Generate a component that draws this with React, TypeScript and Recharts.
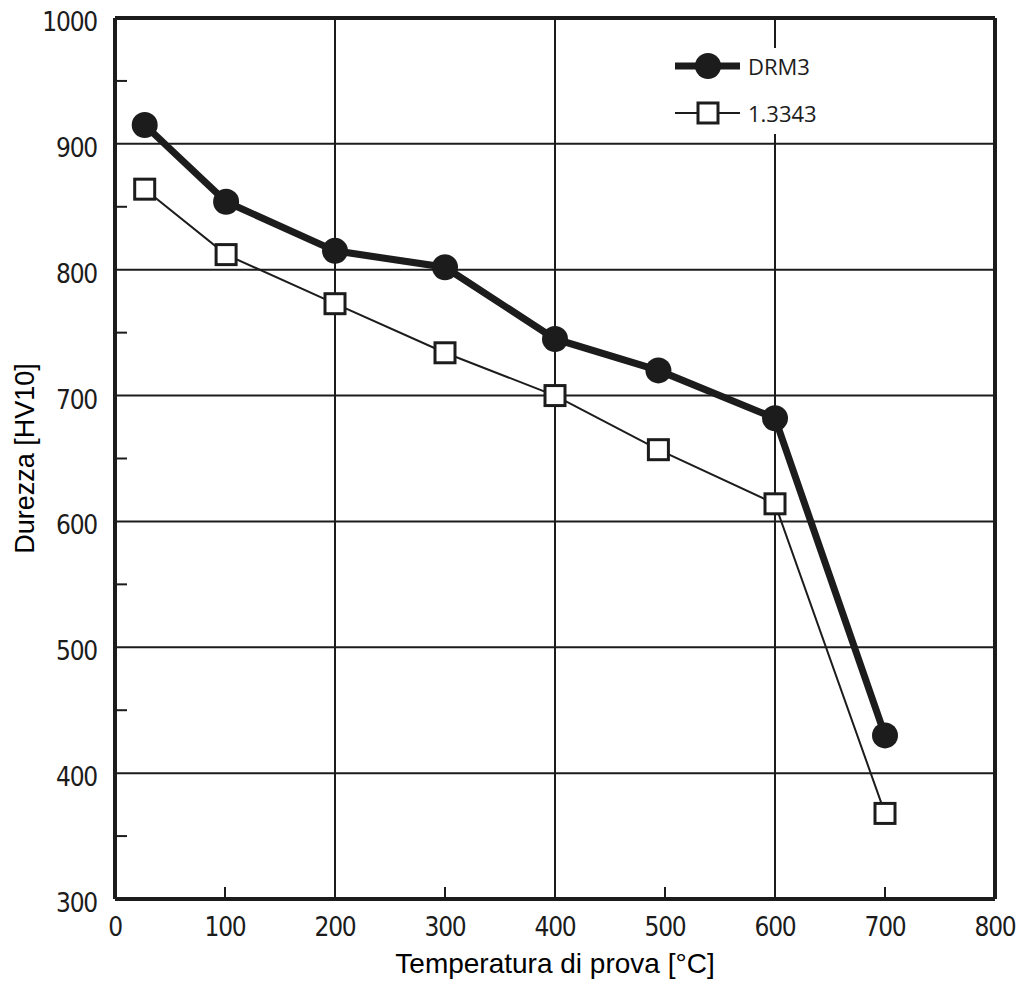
import React from 'react';
import { LineChart, Line, XAxis, YAxis, ReferenceLine, Legend } from 'recharts';

const temps = [27, 101, 200, 300, 400, 494, 600, 700];
const drm3 = [915, 854, 815, 802, 745, 720, 682, 430];
const aisi = [864, 812, 773, 734, 700, 657, 614, 368];
const seriesNames = ['DRM3', '1.3343'];

const xTicks = [0, 100, 200, 300, 400, 500, 600, 700, 800];
const xMinor = [100, 300, 500, 700];
const xGrid = [200, 400, 600];
const yTicks = [300, 350, 400, 450, 500, 550, 600, 650, 700, 750, 800, 850, 900, 950, 1000];
const yMinor = [350, 450, 550, 650, 750, 850, 950];
const yGrid = [400, 500, 600, 700, 800, 900];

const data = temps.map((t, i) => ({ t, drm3: drm3[i], aisi: aisi[i] }));

const INK = '#1c1c1c';
const tickFont = "'Liberation Sans Narrow', 'DejaVu Sans Condensed', 'Roboto', sans-serif";
const titleFont = "'Liberation Sans', Arial, sans-serif";
const legendFont = "'Open Sans', 'Noto Sans', sans-serif";

const YTick = (props: any) => {
  const { x, y, payload } = props;
  if (yMinor.includes(payload.value)) {
    return <line x1={x + 18} x2={x + 30} y1={y} y2={y} stroke={INK} strokeWidth={2} />;
  }
  return (
    <text x={x} y={y + 4} textAnchor="end" dominantBaseline="central" fontFamily={tickFont} fontSize={26} letterSpacing={-1.2} fill={INK}>
      {payload.value}
    </text>
  );
};

const XTick = (props: any) => {
  const { x, y, payload } = props;
  return (
    <g>
      {xMinor.includes(payload.value) && <line x1={x} x2={x} y1={y} y2={y - 12} stroke={INK} strokeWidth={2} />}
      <text x={x} y={y + 28} textAnchor="middle" dominantBaseline="central" fontFamily={tickFont} fontSize={26} letterSpacing={-1.2} fill={INK}>
        {payload.value}
      </text>
    </g>
  );
};

const SquareDot = (props: any) => {
  const { cx, cy, index } = props;
  return <rect key={`sq-${index}`} x={cx - 10} y={cy - 10} width={20} height={20} fill="#fff" stroke={INK} strokeWidth={3} />;
};

const LegendContent = (props: any) => {
  const payload = (props.payload || []).slice().sort(
    (a: any, b: any) => seriesNames.indexOf(a.value) - seriesNames.indexOf(b.value)
  );
  return (
    <svg width={200} height={86} style={{ display: 'block' }}>
      {payload.map((entry: any, i: number) => {
        const cy = i === 0 ? 18 : 65;
        const isDrm = entry.value === 'DRM3';
        return (
          <g key={entry.value}>
            <line x1={10} x2={75} y1={cy} y2={cy} stroke={INK} strokeWidth={isDrm ? 7 : 2} />
            {isDrm ? (
              <circle cx={43} cy={cy} r={13} fill={INK} />
            ) : (
              <rect x={33} y={cy - 10} width={20} height={20} fill="#fff" stroke={INK} strokeWidth={3} />
            )}
            <text x={83} y={cy} dominantBaseline="central" fontFamily={legendFont} fontSize={22} fill={INK}>
              {entry.value}
            </text>
          </g>
        );
      })}
    </svg>
  );
};

export default function App() {
  return (
    <div style={{ position: 'absolute', left: 0, top: 0, width: 1024, height: 995, background: '#fff' }}>
      <LineChart width={1024} height={995} data={data} margin={{ top: 18, right: 29, bottom: 0, left: 0 }}>
        <XAxis
          dataKey="t"
          type="number"
          domain={[0, 800]}
          ticks={xTicks}
          interval={0}
          height={96}
          tickSize={0}
          tickMargin={0}
          tickLine={false}
          tick={<XTick />}
          axisLine={{ stroke: INK, strokeWidth: 4 }}
          label={{
            value: 'Temperatura di prova [°C]',
            position: 'insideBottom',
            offset: 22,
            style: { fontFamily: titleFont, fontSize: 28, fill: '#000' },
          }}
        />
        <YAxis
          type="number"
          domain={[300, 1000]}
          ticks={yTicks}
          interval={0}
          width={115}
          tickSize={0}
          tickMargin={18}
          tickLine={false}
          tick={<YTick />}
          axisLine={{ stroke: INK, strokeWidth: 4 }}
          label={{
            value: 'Durezza [HV10]',
            angle: -90,
            position: 'insideLeft',
            offset: 24,
            style: { fontFamily: titleFont, fontSize: 27, fill: '#000', textAnchor: 'middle' },
          }}
        />
        {yGrid.map((v) => (
          <ReferenceLine key={`gy-${v}`} y={v} stroke={INK} strokeWidth={2} />
        ))}
        {xGrid.map((v) => (
          <ReferenceLine key={`gx-${v}`} x={v} stroke={INK} strokeWidth={2} />
        ))}
        <ReferenceLine y={1000} stroke={INK} strokeWidth={4} />
        <ReferenceLine x={800} stroke={INK} strokeWidth={4} />
        <Legend
          layout="horizontal"
          verticalAlign="middle"
          align="center"
          content={<LegendContent />}
          wrapperStyle={{ left: 665, top: 48, width: 200, height: 86, background: '#fff' }}
        />
        <Line
          type="linear"
          dataKey="aisi"
          name="1.3343"
          stroke={INK}
          strokeWidth={2}
          dot={<SquareDot />}
          activeDot={false}
          isAnimationActive={false}
        />
        <Line
          type="linear"
          dataKey="drm3"
          name="DRM3"
          stroke={INK}
          strokeWidth={7}
          dot={{ r: 13, fill: INK, stroke: 'none' }}
          activeDot={false}
          isAnimationActive={false}
        />
      </LineChart>
    </div>
  );
}
